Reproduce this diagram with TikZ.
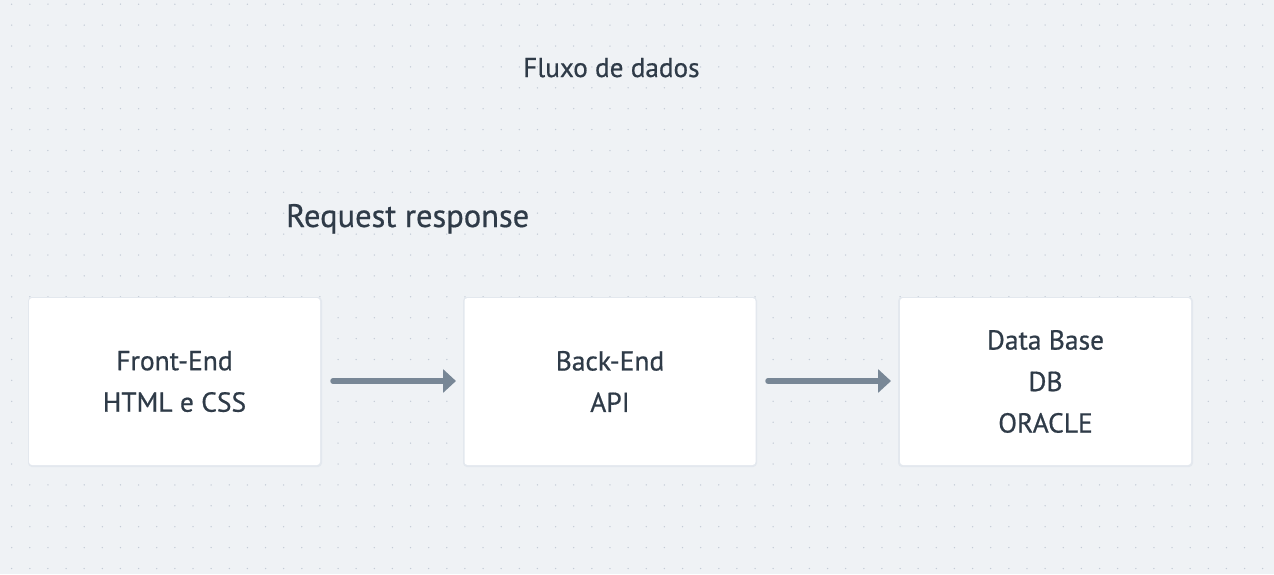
\documentclass[tikz,border=0pt]{standalone}
\usepackage{fontspec}
\setmainfont{PT Sans}[UprightFeatures={FakeBold=0.6}]
\usetikzlibrary{arrows.meta}
\definecolor{bgc}{HTML}{EFF2F5}
\definecolor{dotc}{HTML}{C3CBD6}
\definecolor{txtc}{HTML}{2F3B48}
\definecolor{arrc}{HTML}{788796}
\definecolor{shadc}{HTML}{E3E8EE}
\tikzset{
  procbox/.style={fill=white, rounded corners=3pt, minimum width=291pt, minimum height=167pt,
    inner sep=0pt, text=txtc, font=\fontsize{27.5}{41.5}\selectfont, align=center},
  flowarrow/.style={draw=arrc, line width=5.5pt, line cap=round,
    -{Triangle[length=13pt,width=23pt]}},
  title/.style={text=txtc, inner sep=0pt, anchor=base west}
}
\begin{document}
\begin{tikzpicture}[x=1pt,y=-1pt]
\useasboundingbox (0,0) rectangle (1274,574);
\fill[bgc] (0,0) rectangle (1274,574);
\foreach \i in {0,...,70}{
  \foreach \j in {0,...,27}{
    \fill[dotc] ({11.7+18.13*\i},{4.2+20.9*\j}) circle (0.75pt);
  }
}
% shadows
\fill[shadc, rounded corners=4pt] (28,297) rectangle (322,467);
\fill[shadc, rounded corners=4pt] (463,297) rectangle (757,467);
\fill[shadc, rounded corners=4pt] (898,297) rectangle (1193,467);
\node[procbox] (fe) at (174.5,381.5) {Front-End\\HTML e CSS};
\node[procbox] (be) at (610,381.5) {Back-End\\API};
\node[procbox] (db) at (1045.5,381.5) {Data Base\\DB\\ORACLE};
\node[title, font=\fontsize{27.2}{32}\selectfont] (ttl) at (523,77) {Fluxo de dados};
\node[title, font=\fontsize{32.5}{38}\selectfont] (req) at (286,227) {Request response};
\coordinate (a1s) at (333,381);
\coordinate (a1e) at (456,381);
\coordinate (a2s) at (768,381);
\coordinate (a2e) at (891,381);
\draw[flowarrow] (a1s) -- (a1e);
\draw[flowarrow] (a2s) -- (a2e);
\end{tikzpicture}
\end{document}
